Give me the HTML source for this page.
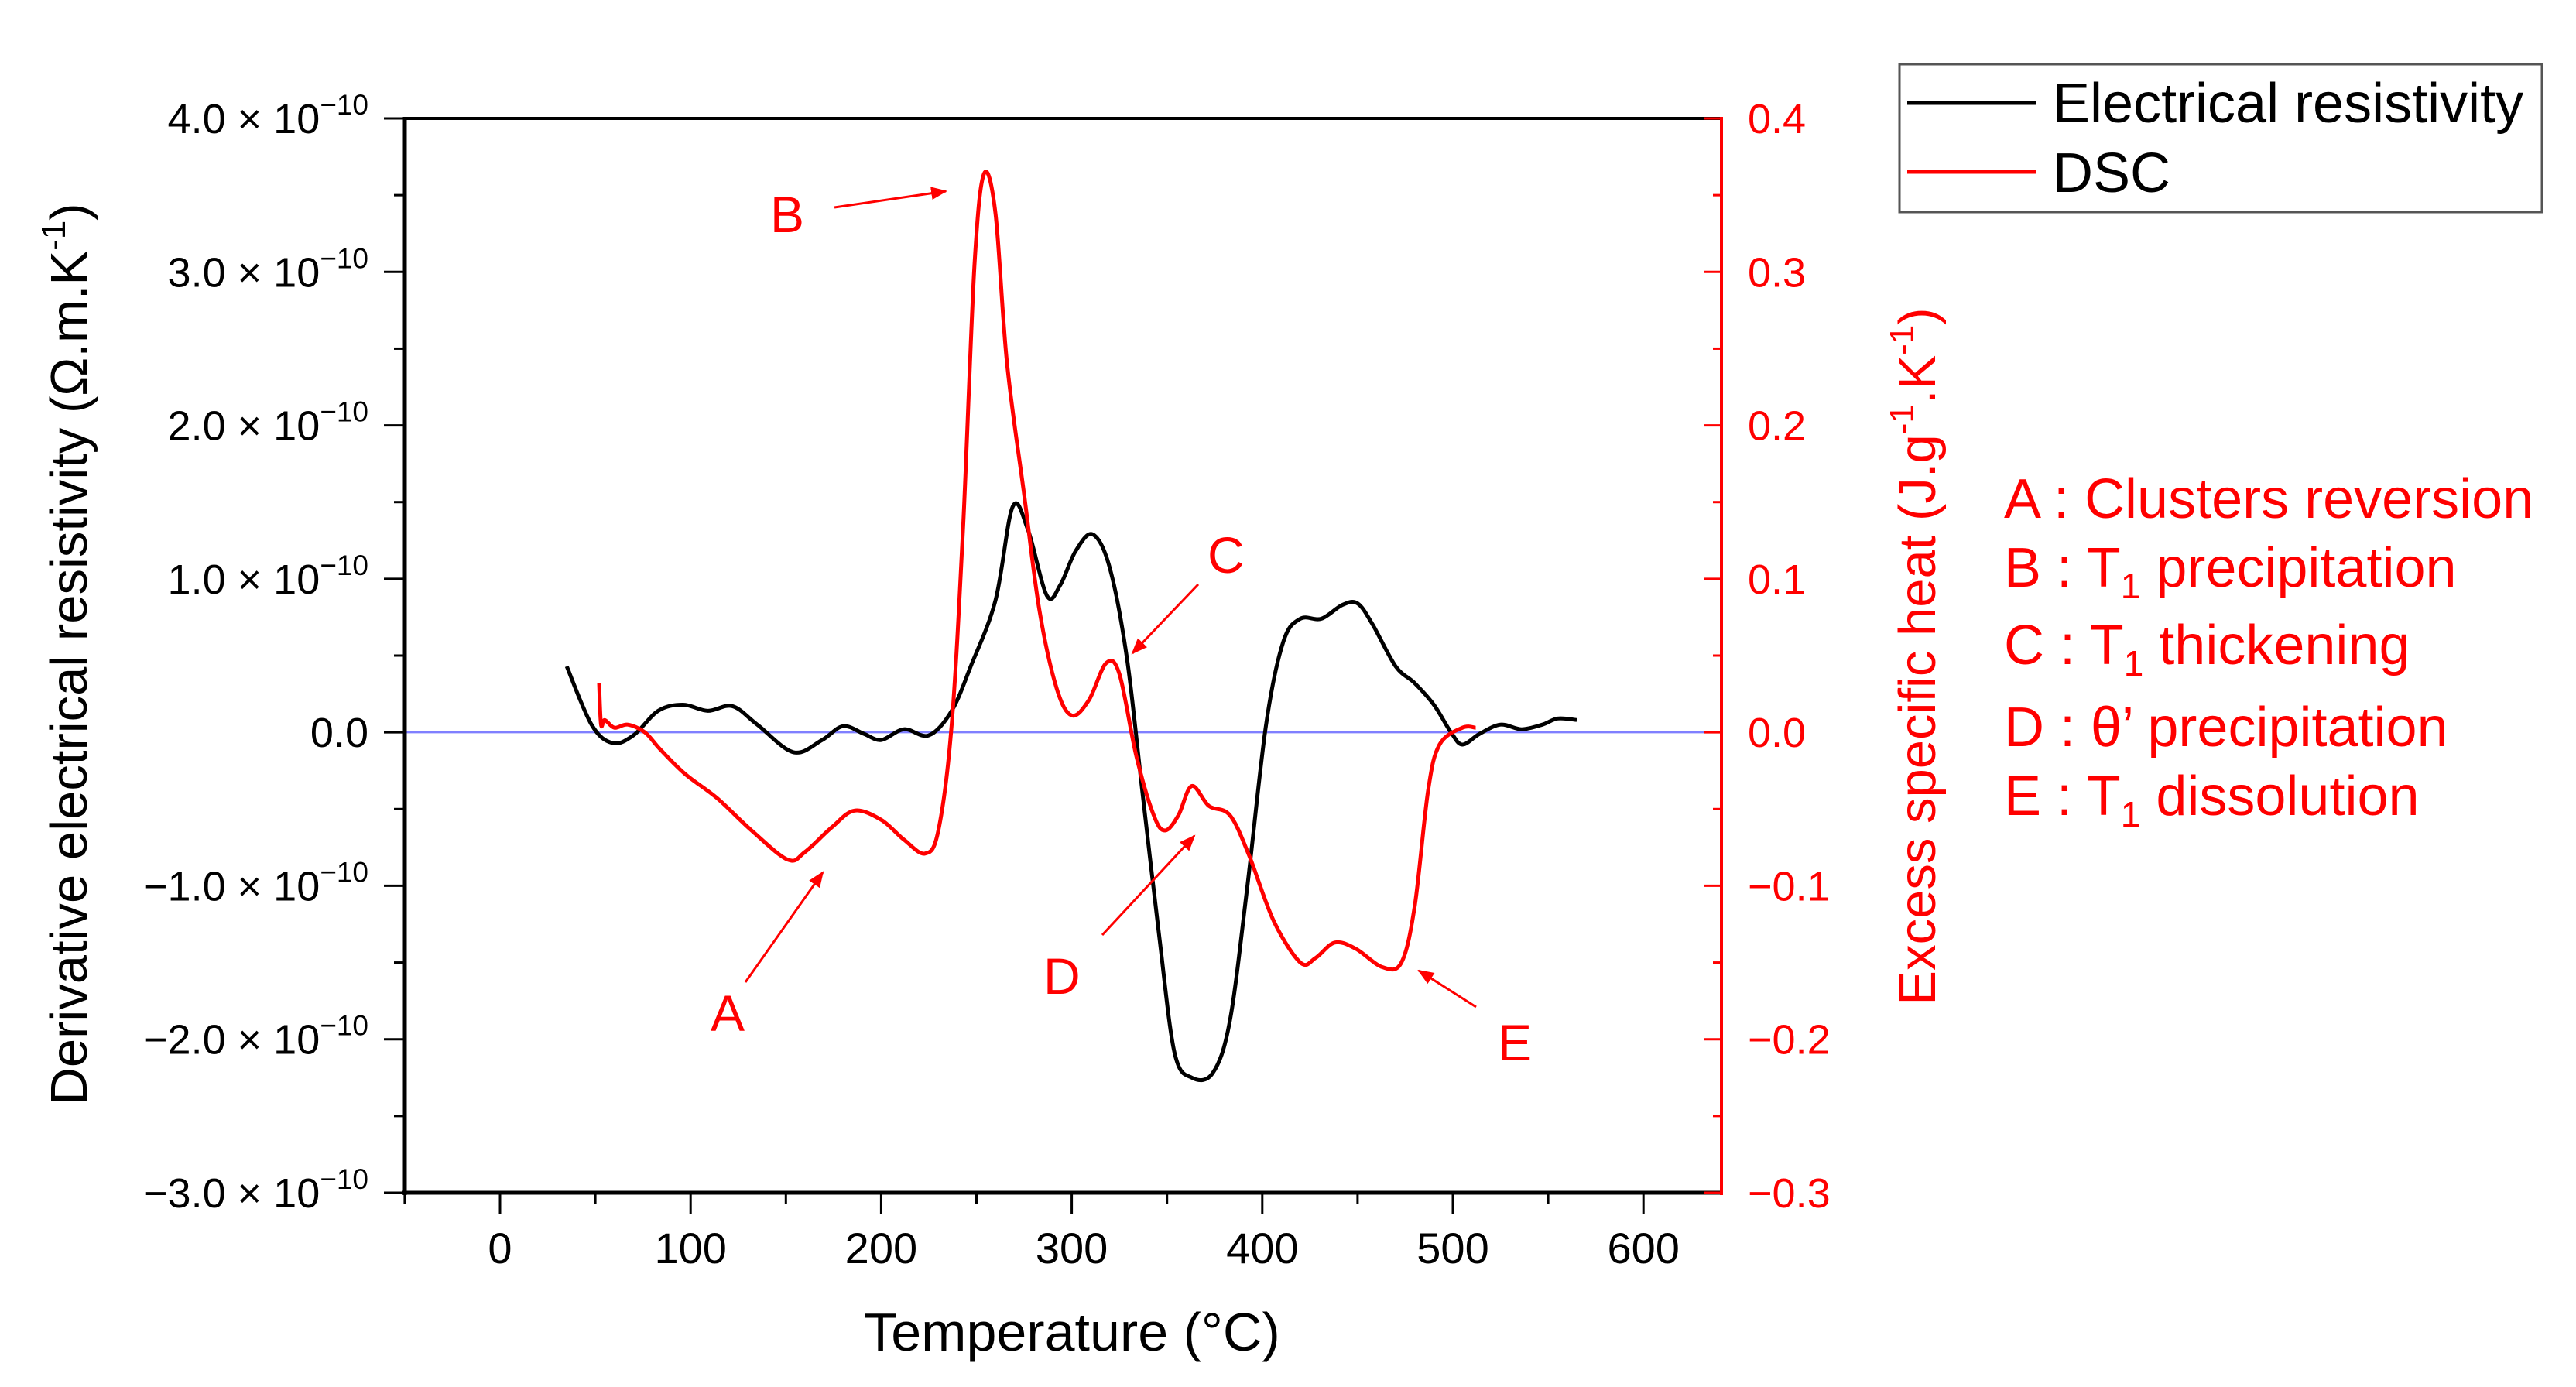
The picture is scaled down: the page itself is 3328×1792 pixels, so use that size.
<!DOCTYPE html>
<html><head><meta charset="utf-8"><style>
html,body{margin:0;padding:0;background:#fff;}
svg{display:block;font-family:"Liberation Sans",Arial,sans-serif;}
</style></head><body>
<svg id="chart" width="3328" height="1792" viewBox="0 0 3328 1792" xmlns="http://www.w3.org/2000/svg">
<g id="plot"></g>
</svg>
<script>
const resT=[35,48,59,70,83,96,109,122,135,154,169,180,191,200,212,225,237,247,260,269,277,287,294,302,311,320,329,337,346,354,363,374,383,392,402,411,420,431,442,450,458,470,480,490,499,505,514,525,536,547,555,565];
const resV=[0.43,0.05,-0.07,-0.02,0.14,0.18,0.14,0.17,0.05,-0.13,-0.05,0.04,-0.01,-0.05,0.02,-0.02,0.14,0.43,0.86,1.47,1.32,0.89,0.96,1.18,1.29,1.07,0.48,-0.38,-1.34,-2.09,-2.25,-2.22,-1.88,-1.02,0.05,0.59,0.74,0.74,0.83,0.84,0.70,0.43,0.32,0.18,0,-0.08,-0.01,0.05,0.02,0.05,0.09,0.08];
const dscT=[52,53,55,60,67,76,84,97,114,132,151,160,174,186,200,212,223,230,237,243,249,254,260,266,275,283,292,300,309,318,325,334,343,349,356,363,372,383,393,406,420,428,438,449,463,473,480,487,493,505,512];
const dscV=[0.032,0.005,0.008,0.003,0.005,0,-0.011,-0.027,-0.043,-0.064,-0.083,-0.078,-0.062,-0.051,-0.057,-0.070,-0.079,-0.064,0.005,0.134,0.305,0.364,0.338,0.241,0.155,0.080,0.029,0.011,0.021,0.045,0.038,-0.016,-0.054,-0.064,-0.054,-0.035,-0.048,-0.054,-0.080,-0.123,-0.150,-0.147,-0.137,-0.141,-0.153,-0.150,-0.113,-0.038,-0.008,0.003,0.003];
const xTicks=[0,100,200,300,400,500,600];
const yLeftTicks=[4,3,2,1,0,-1,-2,-3];
const yRightTicks=[0.4,0.3,0.2,0.1,0.0,-0.1,-0.2,-0.3];

const L=523,R=2224,T=153,B=1541;
const xs=t=>646+t*2.462;
const yl=v=>T+(4-v)/7*(B-T);
const yr=v=>T+(0.4-v)/0.7*(B-T);
const NS="http://www.w3.org/2000/svg";
const g=document.getElementById('plot');
function mk(tag,attrs,parent){const e=document.createElementNS(NS,tag);for(const k in attrs)e.setAttribute(k,attrs[k]);(parent||g).appendChild(e);return e;}
function smooth(P){let d='M'+P[0][0].toFixed(1)+','+P[0][1].toFixed(1);
 for(let i=0;i<P.length-1;i++){const p0=P[i-1]||P[i],p1=P[i],p2=P[i+1],p3=P[i+2]||p2;
  const c1=[p1[0]+(p2[0]-p0[0])/6,p1[1]+(p2[1]-p0[1])/6],c2=[p2[0]-(p3[0]-p1[0])/6,p2[1]-(p3[1]-p1[1])/6];
  d+=' C'+c1[0].toFixed(1)+','+c1[1].toFixed(1)+' '+c2[0].toFixed(1)+','+c2[1].toFixed(1)+' '+p2[0].toFixed(1)+','+p2[1].toFixed(1);}
 return d;}

let e=mk('line',{x1:L,x2:R,y1:yl(0),y2:yl(0),stroke:'#8080ff','stroke-width':2.5});



e=mk('path',{d:smooth(resT.map((t,i)=>[xs(t),yl(resV[i])])),fill:'none',stroke:'#000','stroke-width':5,'stroke-linejoin':'round'});


e=mk('path',{d:smooth(dscT.map((t,i)=>[xs(t),yr(dscV[i])])),fill:'none',stroke:'#ff0000','stroke-width':5,'stroke-linejoin':'round'});



e=mk('line',{x1:L-2,x2:R,y1:T,y2:T,stroke:'#000','stroke-width':4});


e=mk('line',{x1:L,x2:L,y1:T-2,y2:B+3,stroke:'#000','stroke-width':5});


e=mk('line',{x1:L-3,x2:R,y1:B,y2:B,stroke:'#000','stroke-width':5});


e=mk('line',{x1:R,x2:R,y1:T-2,y2:B+3,stroke:'#ff0000','stroke-width':4});



for(let t=-50;t<=600;t+=50){const major=(t%100===0);
 e=mk('line',{x1:xs(t),x2:xs(t),y1:B,y2:B+(major?27:14),stroke:'#000','stroke-width':3});
 
 }
xTicks.forEach(t=>{e=mk('text',{x:xs(t),y:1632,'font-size':56,'text-anchor':'middle',fill:'#000'});e.textContent=t;
 
 });

for(let v=-3;v<=4;v+=0.5){const major=Number.isInteger(v);
 e=mk('line',{x1:L,x2:L-(major?27:14),y1:yl(v),y2:yl(v),stroke:'#000','stroke-width':3});
 
 }
yLeftTicks.forEach(v=>{
 const tx=mk('text',{x:476,y:yl(v)+19,'font-size':54,'text-anchor':'end',fill:'#000'});
 
 
 if(v===0){tx.textContent='0.0';return;}
 const s=(v<0?'\u2212':'')+Math.abs(v).toFixed(1)+' \u00d7 10';
 const a=mk('tspan',{},tx);a.textContent=s;
 const b=mk('tspan',{'font-size':37,dy:-24},tx);b.textContent='\u221210';
});

for(let v=-0.3;v<=0.41;v+=0.05){const vv=Math.round(v*100)/100;const major=Math.abs(Math.round(vv*10)-vv*10)<1e-6;
 e=mk('line',{x1:R,x2:R-(major?23:11),y1:yr(vv),y2:yr(vv),stroke:'#ff0000','stroke-width':3});
 
 }
yRightTicks.forEach(v=>{e=mk('text',{x:2258,y:yr(v)+19,'font-size':54,fill:'#ff0000'});
 e.textContent=(v<0?'\u2212':'')+Math.abs(v).toFixed(1);
 
 });
</script>
<svg style="position:absolute;left:0;top:0" width="3328" height="1792" xmlns="http://www.w3.org/2000/svg" font-family="Liberation Sans, Arial, sans-serif">
 <defs><marker id="ah2" viewBox="0 0 10 10" refX="9" refY="5" markerWidth="7" markerHeight="7" orient="auto"><path d="M0,1 L10,5 L0,9 z" fill="#ff0000"/></marker></defs>
 <text x="1385" y="1745" font-size="70" text-anchor="middle">Temperature (°C)</text>
 <text transform="translate(112,845) rotate(-90)" font-size="67" text-anchor="middle">Derivative electrical resistivity (Ω.m.K<tspan font-size="44" dy="-28">-1</tspan><tspan dy="28">)</tspan></text>
 <text transform="translate(2500,848) rotate(-90)" font-size="67" text-anchor="middle" fill="#ff0000">Excess specific heat (J.g<tspan font-size="44" dy="-28">-1</tspan><tspan dy="28">.K</tspan><tspan font-size="44" dy="-28">-1</tspan><tspan dy="28">)</tspan></text>
 <g>
  <rect x="2454" y="83" width="830" height="191" fill="#fff" stroke="#555" stroke-width="3"/>
  <line x1="2464" x2="2631" y1="133" y2="133" stroke="#000" stroke-width="5"/>
  <text x="2652" y="158" font-size="72">Electrical resistivity</text>
  <line x1="2464" x2="2631" y1="222" y2="222" stroke="#ff0000" stroke-width="5"/>
  <text x="2652" y="248" font-size="72">DSC</text>
 </g>
 <g fill="#ff0000" font-size="72">
  <text x="2589" y="669">A : Clusters reversion</text>
  <text x="2589" y="758">B : T<tspan font-size="46" dy="15">1</tspan><tspan dy="-15"> precipitation</tspan></text>
  <text x="2589" y="858">C : T<tspan font-size="46" dy="15">1</tspan><tspan dy="-15"> thickening</tspan></text>
  <text x="2589" y="964">D : θ’ precipitation</text>
  <text x="2589" y="1053">E : T<tspan font-size="46" dy="15">1</tspan><tspan dy="-15"> dissolution</tspan></text>
 </g>
 <g fill="#ff0000" font-size="66" stroke="#ff0000">
  <text x="995" y="300" stroke="none">B</text>
  <line x1="1078" y1="268" x2="1222" y2="247" stroke-width="3" marker-end="url(#ah2)"/>
  <text x="1560" y="740" stroke="none">C</text>
  <line x1="1548" y1="755" x2="1463" y2="844" stroke-width="3" marker-end="url(#ah2)"/>
  <text x="918" y="1332" stroke="none">A</text>
  <line x1="963" y1="1269" x2="1063" y2="1127" stroke-width="3" marker-end="url(#ah2)"/>
  <text x="1348" y="1284" stroke="none">D</text>
  <line x1="1424" y1="1208" x2="1543" y2="1080" stroke-width="3" marker-end="url(#ah2)"/>
  <text x="1935" y="1370" stroke="none">E</text>
  <line x1="1907" y1="1301" x2="1833" y2="1254" stroke-width="3" marker-end="url(#ah2)"/>
 </g>
</svg>
</body></html>
